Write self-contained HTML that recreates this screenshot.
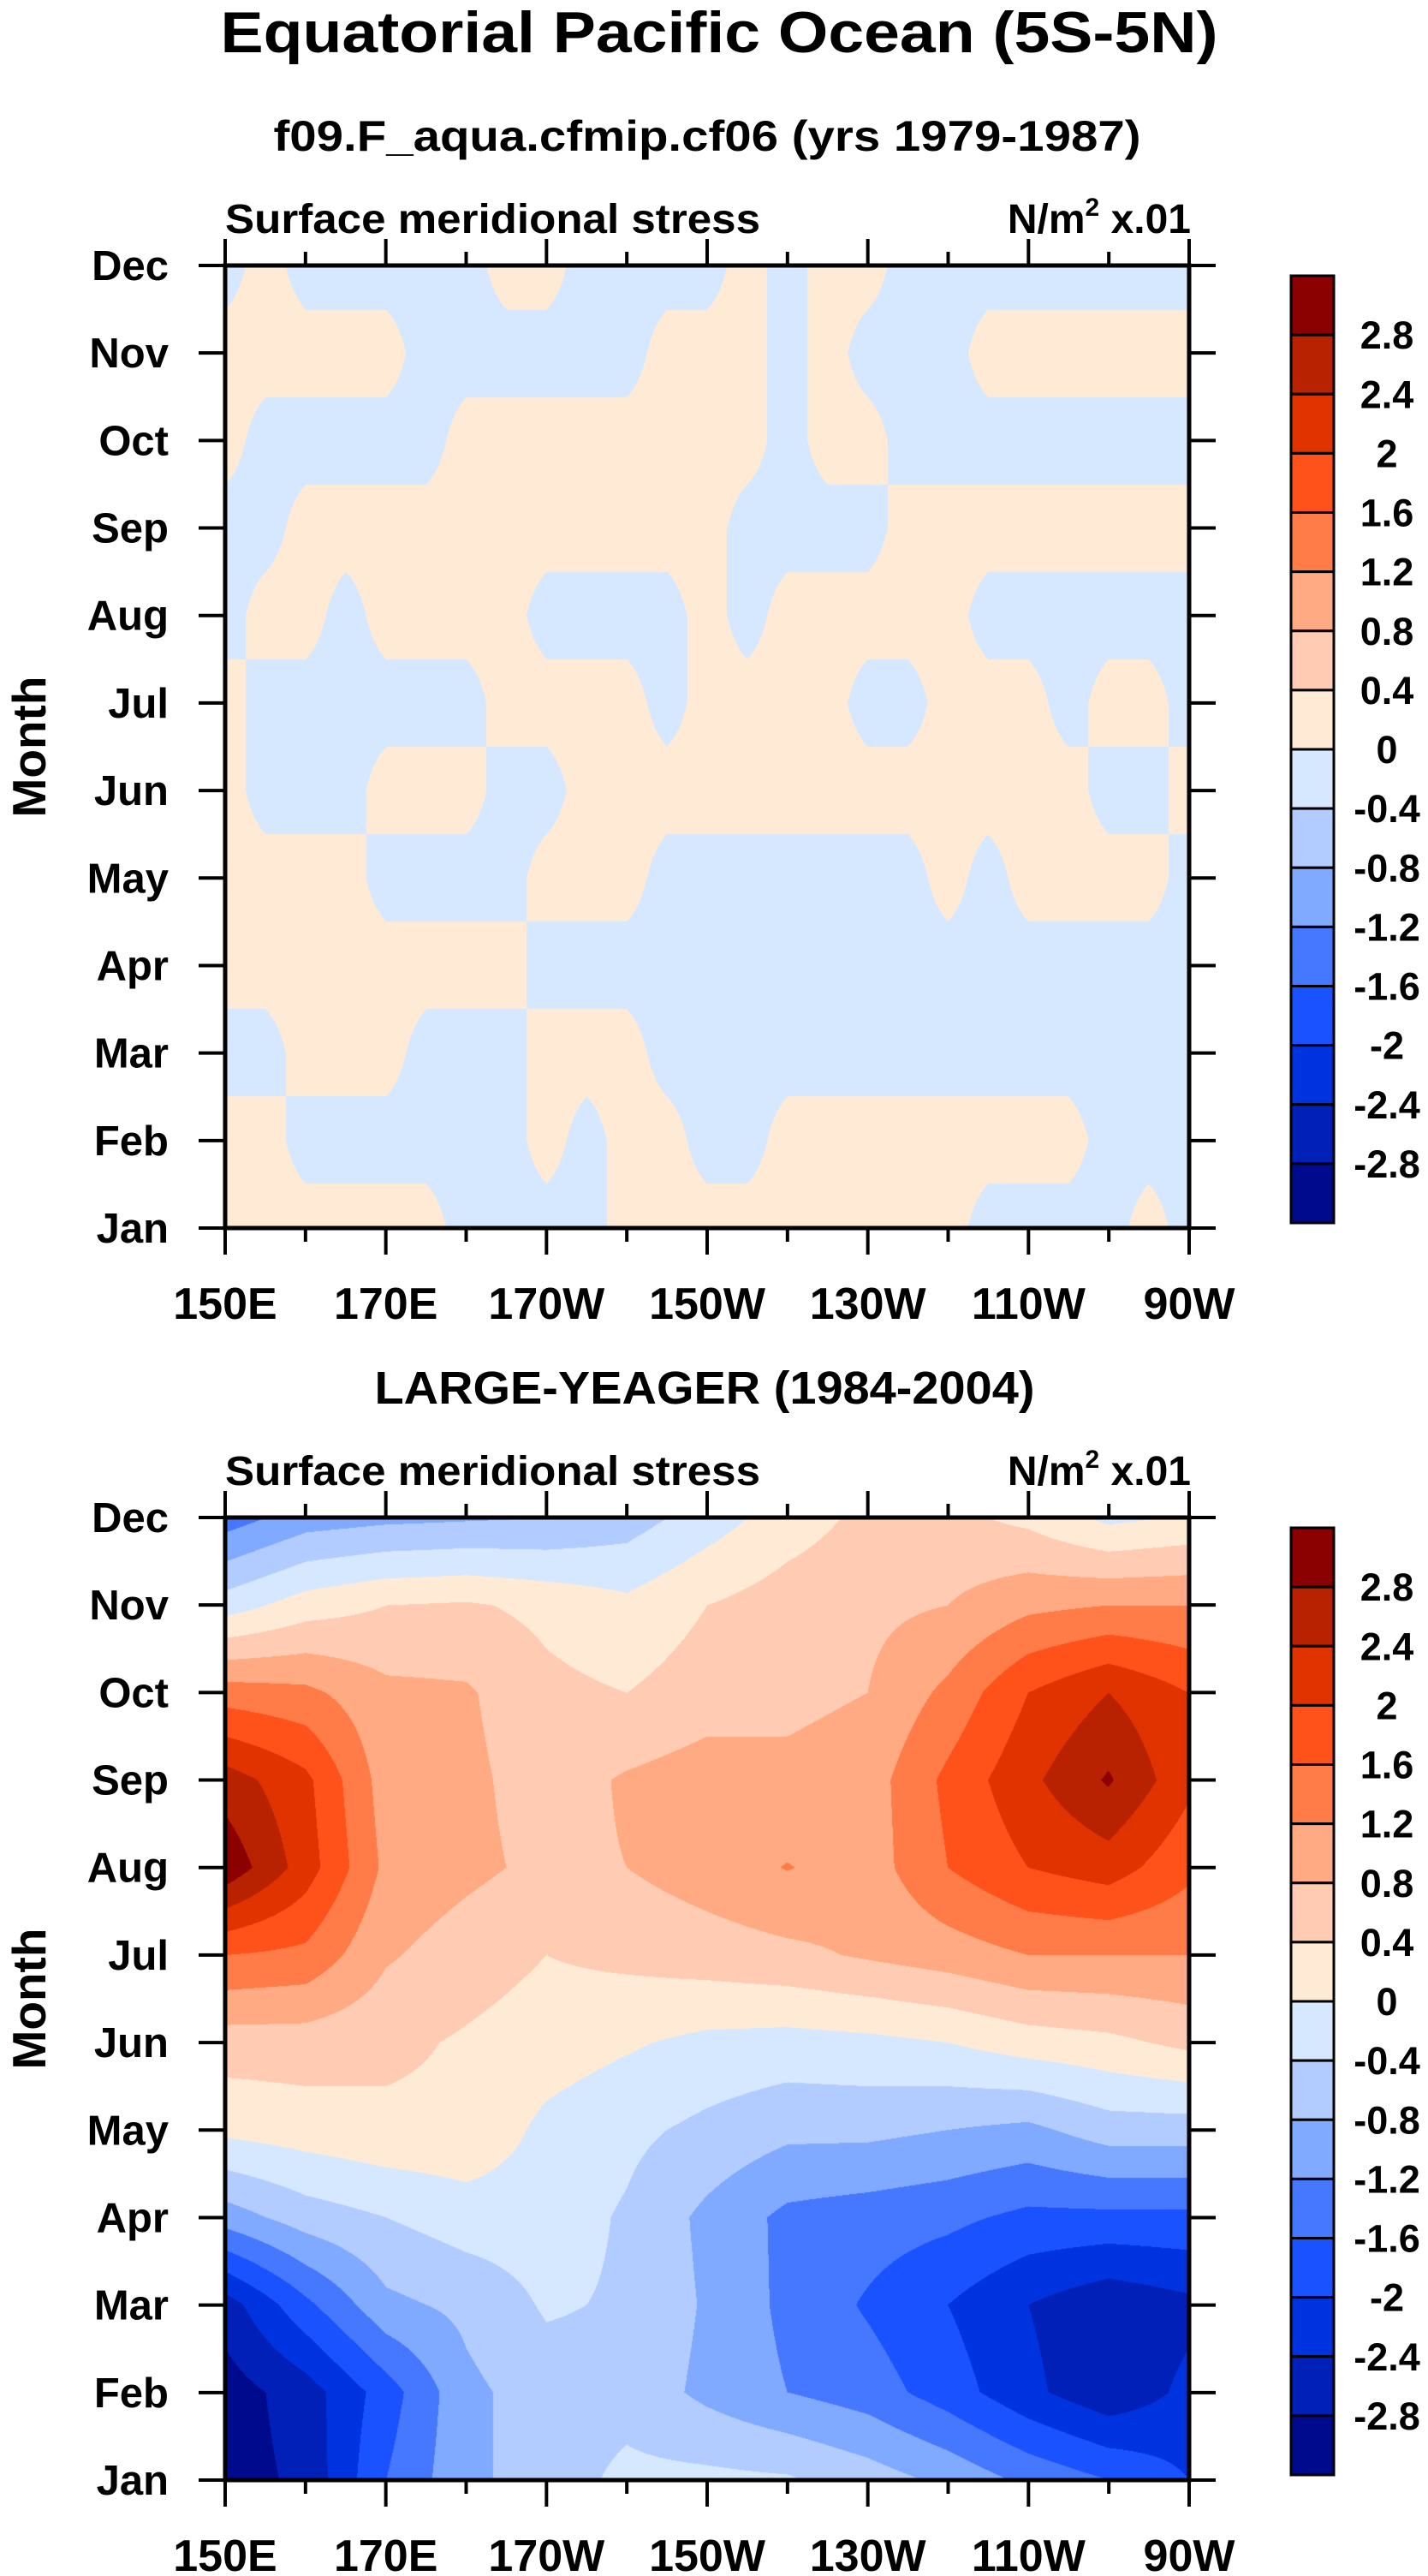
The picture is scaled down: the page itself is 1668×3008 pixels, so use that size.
<!DOCTYPE html>
<html><head><meta charset="utf-8">
<style>
html,body{margin:0;padding:0;background:#fff;}
#root{position:relative;width:1668px;height:3008px;overflow:hidden;}
canvas{position:absolute;}
svg{position:absolute;left:0;top:0;}
text{font-family:"Liberation Sans",Arial,sans-serif;font-weight:bold;fill:#000;}
</style></head>
<body>
<div id="root">
<canvas id="c1" width="1126" height="1124" style="left:263px;top:310px;"></canvas>
<canvas id="c2" width="1126" height="1124" style="left:263px;top:1772px;"></canvas>
<svg id="svg" width="1668" height="3008">
<text x="840" y="61" font-size="68" text-anchor="middle" textLength="1165" lengthAdjust="spacingAndGlyphs">Equatorial Pacific Ocean (5S-5N)</text>
<text x="826" y="176" font-size="50" text-anchor="middle" textLength="1013" lengthAdjust="spacingAndGlyphs">f09.F_aqua.cfmip.cf06 (yrs 1979-1987)</text>
<text x="823" y="1639" font-size="54" text-anchor="middle" textLength="771" lengthAdjust="spacingAndGlyphs">LARGE-YEAGER (1984-2004)</text>
</svg>
</div>
<script>
// ---- data ----
const months = ["Jan","Feb","Mar","Apr","May","Jun","Jul","Aug","Sep","Oct","Nov","Dec"];
const lonTicks = [150,170,190,210,230,250,270];
const lonTickLabels = ["150E","170E","170W","150W","130W","110W","90W"];
const levels = [-2.8,-2.4,-2,-1.6,-1.2,-0.8,-0.4,0,0.4,0.8,1.2,1.6,2,2.4,2.8];
const levelColors = ["#000A8C","#0020B8","#0033E0","#1A52FF","#4577FF","#80AAFF","#B3CCFF","#D6E8FF","#FFEAD6","#FFCCB3","#FFAA82","#FF7B47","#FF521A","#E03300","#B82200","#8B0000"];
// bottom panel (LARGE-YEAGER): lon 150..270 step 10, rows Jan..Dec
const obsLons = [150,160,170,180,190,200,210,220,230,240,250,260,270];
const obsJan = [-3.0,-2.7,-1.6,-0.9,-0.6,-0.3,-0.3,-0.35,-0.6,-0.9,-1.3,-1.6,-2.0];
const obsFeb = [-3.0,-2.6,-1.8,-0.9,-0.6,-0.55,-0.9,-1.2,-1.4,-1.8,-2.3,-2.7,-2.3];
const obsMar = [-2.6,-1.7,-0.9,-0.7,-0.35,-0.45,-0.85,-1.3,-1.65,-2.0,-2.4,-2.7,-2.5];
const obsApr = [-1.0,-0.6,-0.4,-0.2,-0.2,-0.45,-0.9,-1.3,-1.4,-1.5,-1.7,-1.7,-1.7];
const obsMay = [0.1,0.2,0.3,0.3,-0.1,-0.3,-0.5,-0.7,-0.7,-0.8,-0.9,-0.6,-0.6];
const obsJun = [0.6,0.6,0.5,0.35,0.2,0.05,-0.1,-0.15,-0.1,0.0,0.2,0.3,0.5];
const obsJul = [1.6,1.5,0.85,0.6,0.4,0.5,0.6,0.7,0.85,1.0,1.2,1.2,1.2];
const obsAug = [3.1,2.2,1.1,0.9,0.7,0.8,1.0,1.22,1.0,1.6,2.0,2.2,1.7];
const obsSep = [2.6,2.1,1.0,0.9,0.6,0.85,1.0,0.9,1.0,1.7,2.3,2.85,2.1];
const obsOct = [1.4,1.3,0.9,0.85,0.5,0.4,0.6,0.7,0.8,1.3,2.0,2.4,2.0];
const obsNov = [-0.2,0.2,0.4,0.45,0.3,0.1,0.4,0.6,0.7,0.8,1.1,1.2,1.2];
const obsDec = [-1.4,-1.0,-0.9,-0.85,-0.8,-0.6,-0.2,0.2,0.5,0.5,0.3,-0.1,0.05];
// top panel (model): lon 150..270 step 5 (25 values); "o" = +0.15, "b" = -0.15
const modLons = [150,155,160,165,170,175,180,185,190,195,200,205,210,215,220,225,230,235,240,245,250,255,260,265,270];
const modJan = ["ooooo","obbbb","ooooo","oooob","bbbob"].join("");
const modFeb = ["oobbb","bbbob","oobbo","ooooo","oobbb"].join("");
const modMar = ["bbooo","bbboo","obbbb","bbbbb","bbbbb"].join("");
const modApr = ["ooooo","ooobb","bbbbb","bbbbb","bbbbb"].join("");
const modMay = ["oooob","bbboo","obbbb","bbbob","oooob"].join("");
const modJun = ["obbbo","oobbo","ooooo","ooooo","oobbo"].join("");
const modJul = ["obbbb","bbooo","obooo","obboo","oboob"].join("");
const modAug = ["boobo","ooobb","bbobo","oooob","bbbbb"].join("");
const modSep = ["bbooo","ooooo","ooobb","bbooo","ooooo"].join("");
const modOct = ["obbbb","boooo","oooob","oobbb","bbbbb"].join("");
const modNov = ["ooooo","bbbbb","booob","obbbo","ooooo"].join("");
const modDec = ["bobbb","bboob","bbbob","oobbb","bbbbb"].join("");

const NS = "http://www.w3.org/2000/svg";
const svg = document.getElementById("svg");
const PX0 = 263, PX1 = 1389, PH = 1124;
const panels = [{top:310, cbTop:322},{top:1772, cbTop:1784}];
function xScale(lon){ return PX0 + (lon-150)/120*(PX1-PX0); }
function yScale(top, m){ return top + PH - m/11*PH; }

function colorIdx(v){ let i=0; while(i<levels.length && v>=levels[i]) i++; return i; }
function hex(c){ return [parseInt(c.slice(1,3),16),parseInt(c.slice(3,5),16),parseInt(c.slice(5,7),16)]; }
const rgb = levelColors.map(hex);

function drawField(canvasId, lons, rows){
  const cv = document.getElementById(canvasId);
  const ctx = cv.getContext("2d");
  const W = cv.width, H = cv.height;
  const img = ctx.createImageData(W,H);
  const nx = lons.length;
  for(let py=0; py<H; py++){
    const m = (H-1-py)/(H-1)*11;
    let j = Math.min(10, Math.floor(m)); const fy = m-j;
    for(let px=0; px<W; px++){
      const lon = 150 + px/(W-1)*120;
      let i = 0; while(i<nx-2 && lon>lons[i+1]) i++;
      const fx = (lon-lons[i])/(lons[i+1]-lons[i]);
      const v = (rows[j][i]*(1-fx)+rows[j][i+1]*fx)*(1-fy) + (rows[j+1][i]*(1-fx)+rows[j+1][i+1]*fx)*fy;
      const c = rgb[colorIdx(v)];
      const k = (py*W+px)*4;
      img.data[k]=c[0]; img.data[k+1]=c[1]; img.data[k+2]=c[2]; img.data[k+3]=255;
    }
  }
  ctx.putImageData(img,0,0);
}
const obsRows = [obsJan,obsFeb,obsMar,obsApr,obsMay,obsJun,obsJul,obsAug,obsSep,obsOct,obsNov,obsDec];
const modRows = [modJan,modFeb,modMar,modApr,modMay,modJun,modJul,modAug,modSep,modOct,modNov,modDec]
  .map(s => modLons.map((_,i)=> (s[i]==="o") ? 0.15 : -0.15));
drawField("c1", modLons, modRows);
drawField("c2", obsLons, obsRows);

function line(x1,y1,x2,y2,w,name){
  const l=document.createElementNS(NS,"line");
  l.setAttribute("x1",x1);l.setAttribute("y1",y1);l.setAttribute("x2",x2);l.setAttribute("y2",y2);
  l.setAttribute("stroke","#000");l.setAttribute("stroke-width",w);
  
  
  svg.appendChild(l); return l;
}
function txt(x,y,s,size,anchor,name){
  const t=document.createElementNS(NS,"text");
  t.setAttribute("x",x);t.setAttribute("y",y);t.setAttribute("font-size",size);
  t.setAttribute("text-anchor",anchor);t.textContent=s;
  
  
  svg.appendChild(t); return t;
}

panels.forEach((p,pi)=>{
  const top=p.top, bot=top+PH;
  const r=document.createElementNS(NS,"rect");
  r.setAttribute("x",PX0);r.setAttribute("y",top);r.setAttribute("width",PX1-PX0);r.setAttribute("height",PH);
  r.setAttribute("fill","none");r.setAttribute("stroke","#000");r.setAttribute("stroke-width",5);
  
  
  svg.appendChild(r);
  months.forEach((mn,m)=>{
    const y=yScale(top,m);
    line(PX0-31,y,PX0,y,4,"y-tick");
    line(PX1,y,PX1+31,y,4,"y-tick-right");
    txt(197,y+17,mn,49,"end","month-label");
  });
  for(let lon=150; lon<=270; lon+=10){
    const x=xScale(lon); const major=(lon-150)%20===0; const L=major?31:16;
    line(x,top-L,x,top,4,"x-tick-top");
    line(x,bot,x,bot+L,4,"x-tick-bottom");
  }
  lonTicks.forEach((lon,i)=>{ txt(xScale(lon),bot+106,lonTickLabels[i],52,"middle","lon-label"); });
  const yt=txt(0,0,"Month",55,"middle","y-axis-title");
  yt.setAttribute("transform","translate(53,"+(top+PH/2)+") rotate(-90)");
  const s1=txt(PX0,top-38,"Surface meridional stress",48,"start","variable-label");
  s1.setAttribute("textLength","625"); s1.setAttribute("lengthAdjust","spacingAndGlyphs");
  const u=txt(PX1+2,top-38,"",48,"end","units-label");
  u.innerHTML='N/m<tspan dy="-20" font-size="30">2</tspan><tspan dy="20"> x.01</tspan>';
  const bh=69.125, cx0=1508, cw=50;
  levelColors.forEach((c,k)=>{
    const idx=levelColors.length-1-k;
    const b=document.createElementNS(NS,"rect");
    b.setAttribute("x",cx0);b.setAttribute("y",p.cbTop+k*bh);b.setAttribute("width",cw);b.setAttribute("height",bh);
    b.setAttribute("fill",levelColors[idx]);b.setAttribute("stroke","#000");b.setAttribute("stroke-width",3);
    
    
    svg.appendChild(b);
  });
  levels.slice().reverse().forEach((lv,k)=>{
    txt(1620,p.cbTop+(k+1)*bh+16,String(lv),45,"middle","colorbar-label");
  });
});
</script>
</body></html>
